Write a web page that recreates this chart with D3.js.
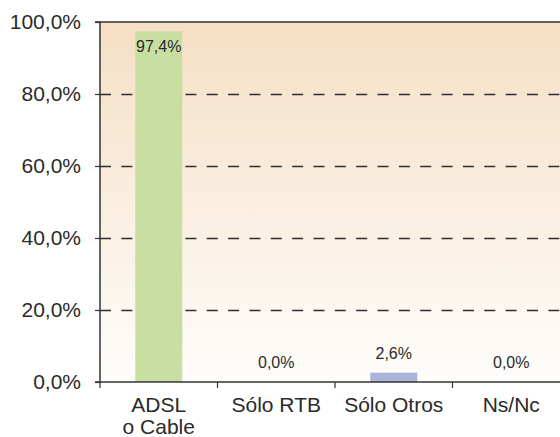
<!DOCTYPE html>
<html><head><meta charset="utf-8">
<script src="https://cdn.jsdelivr.net/npm/d3@7"></script>
<style>body{margin:0;background:#fff}svg{display:block}</style>
</head><body>
<svg id="c" width="560" height="437"></svg>
<script>
const categories = [["ADSL","o Cable"],["Sólo RTB"],["Sólo Otros"],["Ns/Nc"]];
const values = [97.4, 0.0, 2.6, 0.0];
const barColors = ["#c9dfa2","#c9dfa2","#aab3d9","#aab3d9"];
const yTicks = [0,20,40,60,80,100];

const FONT = "'Liberation Sans', Arial, Helvetica, sans-serif";
const svg = d3.select("#c");
const L = 100, T = 22, B = 382, R = 570;
const keys = categories.map(c => c.join(" "));
const x = d3.scaleBand().domain(keys).range([L, R]).paddingInner(0).paddingOuter(0);
const y = d3.scaleLinear().domain([0,100]).range([B, T]);
const fmt = v => v.toFixed(1).replace(".", ",") + "%";

const defs = svg.append("defs");
const g = defs.append("linearGradient").attr("id","bg").attr("x1",0).attr("y1",0).attr("x2",0).attr("y2",1);
g.append("stop").attr("offset","0%").attr("stop-color","#f5dfc4");
g.append("stop").attr("offset","100%").attr("stop-color","#fefdfb");
svg.append("rect").attr("x",L).attr("y",T).attr("width",R-L).attr("height",B-T).attr("fill","url(#bg)");

// gridlines
svg.append("g").selectAll("line").data(yTicks.filter(t=>t>0 && t<100)).join("line")
  .attr("x1",L).attr("x2",R).attr("y1",d=>y(d)+0.5).attr("y2",d=>y(d)+0.5)
  .attr("stroke","#2e2e2e").attr("stroke-width",1.3).attr("stroke-dasharray","11,10.35");

// bars
const bw = x.bandwidth()*0.4;
svg.append("g").selectAll("rect").data(values).join("rect")
  .attr("x",(d,i)=>x(keys[i]) + (x.bandwidth()-bw)/2)
  .attr("width",bw)
  .attr("y",d=>y(d)).attr("height",d=>B-y(d))
  .attr("fill",(d,i)=>barColors[i]);

// value labels
svg.append("g").selectAll("text").data(values).join("text")
  .attr("x",(d,i)=>x(keys[i]) + x.bandwidth()/2)
  .attr("y",d=> y(d)-12 < T+18 ? y(d)+21 : y(d)-14)
  .attr("text-anchor","middle").attr("font-family",FONT)
  .attr("font-size",16).attr("fill","#2a2a2a").text(d=>fmt(d));

// top border
svg.append("line").attr("x1",L).attr("x2",R).attr("y1",T).attr("y2",T).attr("stroke","#333").attr("stroke-width",1.5);

// y axis
const ya = svg.append("g").attr("transform",`translate(${L},0)`)
  .call(d3.axisLeft(y).tickValues(yTicks).tickFormat(fmt).tickSize(5).tickPadding(14));
ya.attr("font-family",FONT);
ya.select(".domain").attr("stroke","#333").attr("stroke-width",1.5).attr("d",`M-5,${T}H0V${B}H-5`);
ya.selectAll(".tick line").attr("stroke","#333").attr("stroke-width",1.2);
ya.selectAll("text").attr("font-family",FONT).attr("font-size",21).attr("fill","#2a2a2a");

// x axis
const xa = svg.append("g").attr("transform",`translate(0,${B})`)
  .call(d3.axisBottom(x).tickSize(0).tickFormat(""));
xa.select(".domain").attr("stroke","#333").attr("stroke-width",1.5).attr("d",`M${L},0H${R}`);
xa.selectAll(".tick").remove();
xa.selectAll("line.sep").data(d3.range(keys.length+1)).join("line").attr("class","sep")
  .attr("x1",i=>L+i*x.step()).attr("x2",i=>L+i*x.step()).attr("y1",0).attr("y2",6)
  .attr("stroke","#333").attr("stroke-width",1.2);

const xl = svg.append("g").selectAll("text").data(categories).join("text")
  .attr("x",(d,i)=>x(keys[i]) + x.bandwidth()/2)
  .attr("y",412)
  .attr("text-anchor","middle").attr("font-family",FONT)
  .attr("font-size",21).attr("fill","#2a2a2a");
xl.each(function(d){
  const t = d3.select(this);
  d.forEach((line,j)=>{
    t.append("tspan").attr("x",t.attr("x")).attr("dy", j===0?0:22).text(line);
  });
});
</script>
</body></html>
